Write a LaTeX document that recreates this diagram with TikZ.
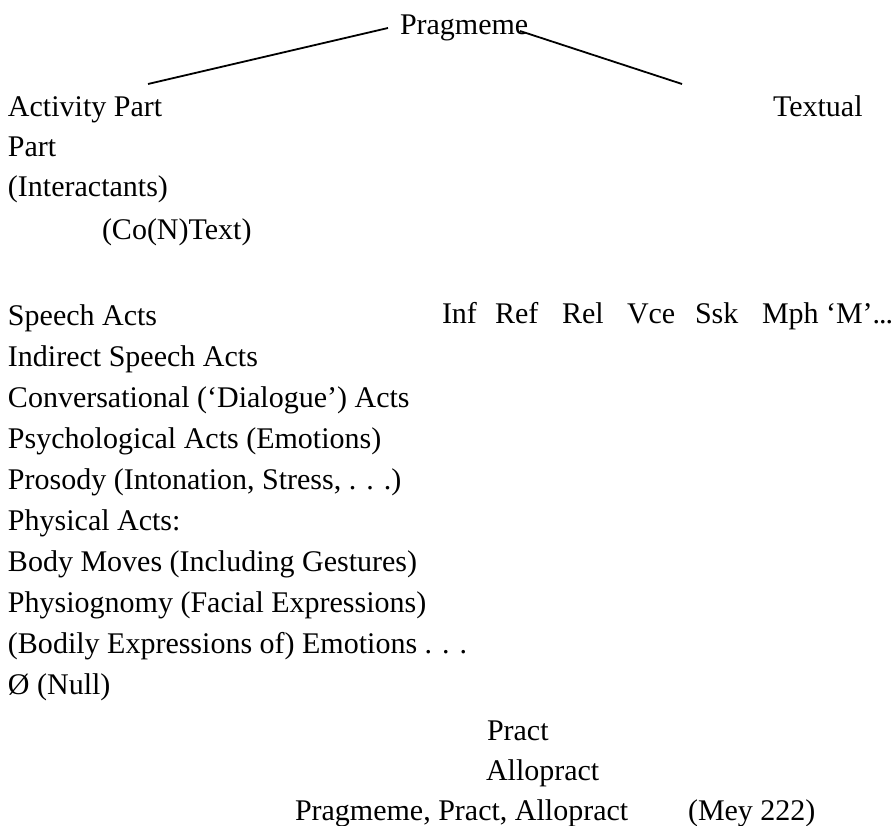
\documentclass[tikz,border=0pt]{standalone}
\usepackage{fontspec}
\setmainfont{Liberation Serif}
\begin{document}
\begin{tikzpicture}[x=1pt,y=-1pt,
  lbl/.style={anchor=base west,inner sep=0pt,outer sep=0pt,font=\fontsize{30}{36}\selectfont},
  link/.style={line width=1.8pt}]
\useasboundingbox (0,0) rectangle (896,826);
% top
\node[lbl] (prag) at (400,35) {Pragmeme};
\node[lbl] (act) at (8,117) {Activity Part};
\node[lbl] (txt) at (773,117) {Textual};
\node[lbl] (part) at (8,157) {Part};
\node[lbl] (inter) at (8,197) {(Interactants)};
\node[lbl] (cont) at (102,240) {(Co(N)Text)};
\coordinate (lt) at (388,28);
\coordinate (lb) at (148,84);
\coordinate (rt) at (520,31);
\coordinate (rb) at (682,84);
\draw[link] (lt) -- (lb);
\draw[link] (rt) -- (rb);
% left list
\node[lbl] (sa) at (8,325) {Speech Acts};
\node[lbl] (isa) at (8,366) {Indirect Speech Acts};
\node[lbl] (ca) at (8,407) {Conversational (‘Dialogue’) Acts};
\node[lbl] (pa) at (8,448) {Psychological Acts (Emotions)};
\node[lbl] (pr) at (8,489) {Prosody (Intonation, Stress, . . .)};
\node[lbl] (ph) at (8,530) {Physical Acts:};
\node[lbl] (bm) at (8,571) {Body Moves (Including Gestures)};
\node[lbl] (pg) at (8,612) {Physiognomy (Facial Expressions)};
\node[lbl] (be) at (8,653) {(Bodily Expressions of) Emotions . . .};
\node[lbl] (nl) at (8,694) {\O{} (Null)};
% right row
\node[lbl] (inf) at (442,323) {Inf};
\node[lbl] (ref) at (495,323) {Ref};
\node[lbl] (rel) at (562,323) {Rel};
\node[lbl] (vce) at (627,323) {Vce};
\node[lbl] (ssk) at (695,323) {Ssk};
\node[lbl] (mph) at (762,323) {Mph};
\node[lbl] (mm) at (826,323) {‘M’.\kern-1pt.\kern-1pt.};
% bottom
\node[lbl] (pract) at (487,740) {Pract};
\node[lbl] (allo) at (486,780) {Allopract};
\node[lbl] (cap) at (295,820) {Pragmeme, Pract, Allopract};
\node[lbl] (mey) at (688,820) {(Mey 222)};
\end{tikzpicture}
\end{document}
